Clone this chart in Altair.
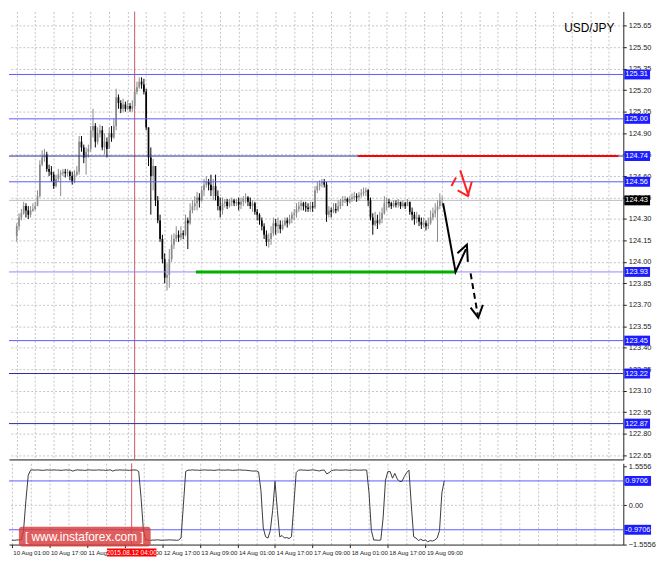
import altair as alt
import pandas as pd

# ---------------- data ----------------
symbol = "USD/JPY"
first_open = 124.18
close = [124.25,124.31,124.34,124.39,124.36,124.33,124.36,124.37,124.39,124.46,
124.68,124.73,124.75,124.65,124.63,124.61,124.53,124.58,124.61,124.62,
124.63,124.62,124.63,124.60,124.56,124.61,124.63,124.84,124.80,124.73,
124.77,124.79,124.92,124.95,124.84,124.90,124.92,124.80,124.84,124.79,
124.90,124.87,124.95,125.15,125.11,125.07,125.10,125.07,125.09,125.07,
125.09,125.19,125.22,125.26,125.24,125.19,124.94,124.73,124.60,124.67,
124.43,124.29,124.16,124.02,123.89,123.91,124.02,124.12,124.16,124.19,
124.17,124.20,124.19,124.29,124.27,124.36,124.39,124.41,124.45,124.43,
124.50,124.54,124.56,124.54,124.50,124.53,124.46,124.39,124.36,124.41,
124.42,124.39,124.42,124.43,124.41,124.42,124.40,124.42,124.44,124.45,
124.42,124.39,124.41,124.35,124.33,124.29,124.25,124.19,124.14,124.16,
124.20,124.27,124.25,124.26,124.23,124.26,124.29,124.27,124.30,124.33,
124.34,124.37,124.39,124.41,124.39,124.38,124.37,124.39,124.38,124.50,
124.53,124.55,124.56,124.54,124.33,124.36,124.35,124.37,124.36,124.39,
124.42,124.43,124.44,124.42,124.44,124.45,124.46,124.45,124.47,124.48,
124.49,124.50,124.43,124.31,124.26,124.29,124.27,124.30,124.34,124.41,
124.42,124.41,124.39,124.41,124.40,124.42,124.39,124.41,124.39,124.42,
124.35,124.33,124.30,124.31,124.28,124.26,124.27,124.25,124.27,124.31,
124.34,124.36,124.39,124.43,124.43]
high = [124.27,124.34,124.37,124.42,124.41,124.39,124.39,124.41,124.42,124.50,
124.71,124.78,124.79,124.77,124.68,124.67,124.63,124.61,124.65,124.64,
124.65,124.65,124.65,124.64,124.63,124.64,124.67,124.88,124.88,124.82,
124.80,124.82,124.95,125.07,124.97,124.94,124.96,124.95,124.90,124.87,
124.94,124.95,125.00,125.21,125.17,125.13,125.14,125.12,125.13,125.11,
125.13,125.21,125.26,125.29,125.29,125.28,125.21,124.94,124.80,124.72,
124.67,124.46,124.33,124.19,124.06,123.99,124.09,124.19,124.20,124.25,
124.22,124.25,124.22,124.33,124.31,124.41,124.43,124.46,124.49,124.48,
124.53,124.58,124.60,124.58,124.61,124.58,124.61,124.50,124.45,124.45,
124.44,124.44,124.44,124.45,124.44,124.44,124.45,124.45,124.46,124.48,
124.46,124.45,124.43,124.42,124.37,124.34,124.31,124.27,124.22,124.20,
124.25,124.31,124.30,124.31,124.29,124.29,124.31,124.31,124.33,124.35,
124.37,124.41,124.42,124.43,124.42,124.42,124.41,124.42,124.42,124.53,
124.56,124.57,124.58,124.58,124.56,124.39,124.38,124.41,124.41,124.43,
124.44,124.46,124.46,124.45,124.46,124.48,124.49,124.48,124.49,124.51,
124.52,124.52,124.51,124.45,124.34,124.35,124.33,124.35,124.38,124.46,
124.45,124.44,124.42,124.43,124.43,124.44,124.42,124.43,124.42,124.44,
124.42,124.38,124.35,124.35,124.33,124.31,124.31,124.29,124.31,124.36,
124.38,124.41,124.43,124.48,124.46]
low = [124.14,124.22,124.29,124.33,124.31,124.30,124.31,124.35,124.36,124.39,
124.45,124.67,124.70,124.63,124.60,124.56,124.51,124.52,124.56,124.46,
124.60,124.59,124.60,124.57,124.54,124.55,124.60,124.61,124.77,124.69,
124.61,124.73,124.77,124.87,124.80,124.82,124.87,124.78,124.75,124.73,
124.80,124.84,124.86,124.92,125.07,125.04,125.05,125.05,125.06,125.05,
125.05,125.07,125.17,125.21,125.21,125.17,124.92,124.67,124.33,124.50,
124.39,124.27,124.14,123.99,123.85,123.80,123.82,124.00,124.09,124.14,
124.14,124.15,124.16,124.18,124.09,124.26,124.34,124.36,124.36,124.38,
124.42,124.46,124.52,124.50,124.46,124.43,124.43,124.36,124.31,124.33,
124.38,124.37,124.38,124.39,124.39,124.39,124.36,124.37,124.39,124.41,
124.39,124.37,124.35,124.33,124.29,124.26,124.22,124.16,124.11,124.10,
124.12,124.18,124.19,124.20,124.20,124.22,124.25,124.24,124.26,124.27,
124.29,124.31,124.35,124.36,124.36,124.35,124.35,124.35,124.35,124.37,
124.48,124.50,124.52,124.52,124.28,124.31,124.31,124.34,124.34,124.35,
124.37,124.39,124.41,124.39,124.41,124.42,124.43,124.42,124.43,124.45,
124.46,124.46,124.39,124.29,124.19,124.25,124.23,124.26,124.27,124.33,
124.36,124.38,124.37,124.38,124.38,124.38,124.37,124.38,124.37,124.39,
124.33,124.29,124.26,124.27,124.25,124.23,124.24,124.22,124.23,124.26,
124.29,124.31,124.14,124.37,124.39]
osc = [-1.38,-1.39,-1.38,-1.37,-1.38,-1.00,0.20,1.20,1.40,
1.41,1.40,1.41,1.40,1.39,1.40,1.41,1.40,1.40,1.41,
1.40,1.40,1.39,1.40,1.41,1.40,1.40,1.36,1.40,1.41,
1.40,1.40,1.39,1.40,1.41,1.40,1.40,1.40,1.41,1.40,
1.40,1.39,1.40,1.41,1.36,1.40,1.40,1.41,1.40,1.40,
1.40,1.39,1.40,1.41,1.40,
1.35,0.30,-1.00,-1.38,
-1.38,-1.39,-1.38,-1.38,-1.37,-1.38,-1.39,-1.38,-1.38,-1.37,-1.38,-1.38,-1.39,-1.38,
-1.30,0.00,1.35,1.40,
1.40,1.41,1.40,1.40,1.39,1.40,1.41,1.40,1.40,1.40,1.39,1.40,1.41,1.40,1.40,
1.40,1.41,1.40,1.39,1.40,1.40,1.41,1.40,1.40,1.39,1.38,1.37,1.36,1.37,
1.33,0.60,-0.90,-1.25,-1.30,-1.00,-0.20,0.95,-0.20,-1.25,-1.20,-1.30,-1.28,-1.32,-1.25,0.00,1.30,
1.40,1.41,1.40,1.40,1.39,1.40,1.41,1.40,1.38,1.37,1.40,1.40,
1.25,1.30,1.38,
1.40,1.41,1.40,1.40,1.40,1.41,1.40,1.39,1.40,1.41,1.40,1.40,1.40,1.41,1.40,
0.50,-1.00,-1.38,-1.38,-1.39,-1.38,-0.50,1.00,1.34,1.34,1.08,1.27,1.05,0.95,0.95,
1.14,1.30,1.40,0.00,-1.25,-1.30,-1.40,-1.35,-1.40,-1.38,-1.45,-1.40,-1.42,-1.38,
-1.30,-1.00,0.50,0.97]

x_labels = ["10 Aug 01:00", "10 Aug 17:00", "11 Aug 09:00", "12 Aug 01:00",
            "12 Aug 17:00", "13 Aug 09:00", "14 Aug 01:00", "14 Aug 17:00",
            "17 Aug 09:00", "18 Aug 01:00", "18 Aug 17:00", "19 Aug 09:00"]
x_label_step = 16
grid_step = 8
y_ticks = [122.65, 122.80, 122.95, 123.10, 123.25, 123.40, 123.55, 123.70,
           123.85, 124.00, 124.15, 124.30, 124.45, 124.60, 124.75, 124.90,
           125.05, 125.20, 125.35, 125.50, 125.65]
osc_ticks = [-1.5556, 0.0, 1.5556]
osc_levels = [0.9706, -0.9706]

levels = [125.31, 125.00, 124.74, 124.56, 123.93, 123.45, 123.22, 122.87]
level_colors = ["#5b5bff", "#5b5bff", "#2a2a9a", "#5b5bff", "#8a8aff",
                "#5b5bff", "#2a2a9a", "#2a2a9a"]
current_price = 124.43

marker_bar = 51
marker_label = "2015.08.12 04:00"

res_bar = [147.5, 260.2]
res_price = [124.74, 124.74]
sup_bar = [77.5, 190.0]
sup_price = [123.93, 123.93]

solid_seg = ["a", "a", "a", "b", "b", "b", "c", "c", "c"]
solid_bar = [184.4, 189.8, 194.3, 190.6, 194.7, 195.1, 196.3, 199.6, 201.6]
solid_price = [124.41, 123.93, 124.09, 124.06, 124.12, 124.00, 123.68, 123.61, 123.70]
dash_bar = [196.3, 199.4]
dash_price = [123.92, 123.63]
red_seg = ["a", "a", "b", "b", "c", "c", "c"]
red_bar = [188.0, 190.0, 191.8, 195.5, 190.7, 195.1, 196.8]
red_price = [124.53, 124.59, 124.64, 124.46, 124.50, 124.46, 124.56]

logo_text = "[  www.instaforex.com  ]"

# ---------------- layout ----------------
W, H1, H2 = 620, 452, 82
XDOM = [-1.2, 260.2]
YDOM = [122.62, 125.75]
ODOM = [-1.56, 1.67]
FONT = "Liberation Sans"
GRID = "#c4c4c4"
MARKER = "#c85a5a"

xscale = alt.Scale(domain=XDOM, nice=False, zero=False)
yscale = alt.Scale(domain=YDOM, nice=False, zero=False)
oscale = alt.Scale(domain=ODOM, nice=False, zero=False)
grid_vals = list(range(0, 257, grid_step))

main_xaxis = alt.Axis(values=grid_vals, labels=False, ticks=False, title=None,
                      grid=True, gridColor=GRID, gridDash=[2, 2],
                      domain=True, domainColor="#7a7a7a", domainWidth=2)
main_yaxis = alt.Axis(orient="right", values=y_ticks, format=".2f", title=None,
                      grid=True, gridColor=GRID, gridDash=[2, 2],
                      labelFontSize=7.5, labelFont=FONT, labelColor="#222",
                      tickSize=3, tickColor="#222", labelPadding=2,
                      domainColor="#222", labelOverlap=False)

n_lab = len(x_labels)
last_lab = (n_lab - 1) * x_label_step
expr = "".join(f"datum.value == {i * x_label_step} ? '{t}' : " for i, t in enumerate(x_labels)) + "''"
ind_xaxis = alt.Axis(values=grid_vals, labelExpr=expr, title=None, grid=True,
                     gridColor=GRID, gridDash=[2, 2], labelFontSize=6.2,
                     labelFont=FONT, labelColor="#222", labelAlign="left",
                     labelPadding=2, labelOverlap=False, labelFlush=False,
                     labelOffset=1,
                     tickSize=3, tickColor="#222",
                     tickOpacity={"condition": {"test": f"datum.value % {x_label_step} == 0 && datum.value <= {last_lab}", "value": 1}, "value": 0},
                     domainColor="#222")
ind_yaxis = alt.Axis(orient="right", values=osc_ticks,
                     labelExpr="datum.value == 0 ? '0.00' : format(datum.value, '.4f')",
                     title=None, grid=False, labelFontSize=7.5, labelFont=FONT,
                     labelColor="#222", tickSize=3, tickColor="#222",
                     labelPadding=2, domainColor="#222", labelOverlap=False)


def mx(f):
    return alt.X(f, type="quantitative", scale=xscale, axis=main_xaxis)


def my(f):
    return alt.Y(f, type="quantitative", scale=yscale, axis=main_yaxis)


def ox(f):
    return alt.X(f, type="quantitative", scale=xscale, axis=ind_xaxis)


def oy(f):
    return alt.Y(f, type="quantitative", scale=oscale, axis=ind_yaxis)


n = min(len(close), len(high), len(low))
opens = [first_open] + close[:n - 1]
df = pd.DataFrame({"bar": list(range(n)), "open": opens, "high": high[:n],
                   "low": low[:n], "close": close[:n]})
df["dir"] = ["up" if c >= o else "down" for o, c in zip(df["open"], df["close"])]
cdir = alt.Color("dir:N", scale=alt.Scale(domain=["up", "down"], range=["#8a8a8a", "#000000"]), legend=None)

cur_df = pd.DataFrame({"price": [current_price]})
lev_df = pd.DataFrame({"price": levels, "col": level_colors})
mark_df = pd.DataFrame({"bar": [marker_bar], "t": [marker_label]})
res_df = pd.DataFrame({"bar": res_bar, "price": res_price})
sup_df = pd.DataFrame({"bar": sup_bar, "price": sup_price})
sol_df = pd.DataFrame({"seg": solid_seg, "bar": solid_bar, "price": solid_price, "i": list(range(len(solid_bar)))})
dash_df = pd.DataFrame({"bar": dash_bar, "price": dash_price})
red_df = pd.DataFrame({"seg": red_seg, "bar": red_bar, "price": red_price, "i": list(range(len(red_bar)))})
lab_df = pd.DataFrame({"price": levels + [current_price],
                       "label": [f"{v:.2f}" for v in levels + [current_price]],
                       "fill": ["#1c1cff"] * len(levels) + ["#000000"]})
title_df = pd.DataFrame({"t": [symbol]})

grid_layer = alt.Chart(cur_df).mark_rule(color="#bdbdbd", strokeWidth=1).encode(y=my("price"))
vline = alt.Chart(mark_df).mark_rule(color=MARKER, strokeWidth=1).encode(x=mx("bar"))
wick = alt.Chart(df).mark_rule(strokeWidth=1).encode(x=mx("bar"), y=my("low"), y2=alt.Y2("high"), color=cdir)
body = alt.Chart(df).mark_bar(size=1.7).encode(x=mx("bar"), y=my("open"), y2=alt.Y2("close"), color=cdir)
lev = alt.Chart(lev_df).mark_rule(strokeWidth=1).encode(y=my("price"), color=alt.Color("col:N", scale=None))
res = alt.Chart(res_df).mark_line(color="#ff0000", strokeWidth=2).encode(x=mx("bar"), y=my("price"))
sup = alt.Chart(sup_df).mark_line(color="#00b000", strokeWidth=3).encode(x=mx("bar"), y=my("price"))
arr_s = alt.Chart(sol_df).mark_line(color="#000000", strokeWidth=2).encode(
    x=mx("bar"), y=my("price"), detail="seg:N", order="i:Q")
arr_d = alt.Chart(dash_df).mark_line(color="#000000", strokeWidth=2, strokeDash=[6, 4]).encode(
    x=mx("bar"), y=my("price"))
arr_r = alt.Chart(red_df).mark_line(color="#ff2020", strokeWidth=2).encode(
    x=mx("bar"), y=my("price"), detail="seg:N", order="i:Q")
box = alt.Chart(lab_df).mark_rect(yOffset=-5, y2Offset=5).encode(
    x=alt.value(W + 1), x2=alt.value(W + 27), y=my("price"), y2=alt.Y2("price"),
    color=alt.Color("fill:N", scale=None))
box_t = alt.Chart(lab_df).mark_text(align="left", baseline="middle", fontSize=7.5, font=FONT, color="white").encode(
    x=alt.value(W + 2), y=my("price"), text="label:N")
title = alt.Chart(title_df).mark_text(align="right", baseline="middle", fontSize=12, font=FONT, color="black").encode(
    x=alt.value(W - 9), y=alt.value(17), text="t:N")

main = alt.layer(grid_layer, vline, wick, body, lev, res, sup, arr_s, arr_d, arr_r,
                 box, box_t, title).properties(width=W, height=H1)

# ---------------- indicator panel ----------------
idf = pd.DataFrame({"bar": list(range(len(osc))), "osc": osc})
zero_df = pd.DataFrame({"v": [0.0]})
olev_df = pd.DataFrame({"v": osc_levels, "label": [f"{v:.4f}" for v in osc_levels]})
logo_df = pd.DataFrame({"t": [logo_text]})

zero = alt.Chart(zero_df).mark_rule(color=GRID, strokeDash=[2, 2]).encode(y=oy("v"))
olev = alt.Chart(olev_df).mark_rule(color="#5b5bff", strokeWidth=1).encode(y=oy("v"))
ovl = alt.Chart(mark_df).mark_rule(color=MARKER, strokeWidth=1).encode(x=ox("bar"))
oline = alt.Chart(idf).mark_line(color="#3a3a3a", strokeWidth=1).encode(x=ox("bar"), y=oy("osc"))
obox = alt.Chart(olev_df).mark_rect(yOffset=-5, y2Offset=5, color="#1c1cff").encode(
    x=alt.value(W + 1), x2=alt.value(W + 28), y=oy("v"), y2=alt.Y2("v"))
obox_t = alt.Chart(olev_df).mark_text(align="left", baseline="middle", fontSize=7.5, font=FONT, color="white").encode(
    x=alt.value(W + 2), y=oy("v"), text="label:N")
dbox = alt.Chart(mark_df).mark_rect(color="#ff0000", xOffset=-25, x2Offset=25).encode(
    x=ox("bar"), x2=alt.X2("bar"), y=alt.value(H2 + 4), y2=alt.value(H2 + 12))
dbox_t = alt.Chart(mark_df).mark_text(align="center", baseline="middle", fontSize=6.5, font=FONT, color="white").encode(
    x=ox("bar"), y=alt.value(H2 + 8.5), text="t:N")
logo = alt.Chart(logo_df).mark_rect(color="#d83c3c", opacity=0.82, cornerRadius=3).encode(
    x=alt.value(10), x2=alt.value(143), y=alt.value(H2 - 18), y2=alt.value(H2 + 2))
logo_t = alt.Chart(logo_df).mark_text(align="center", baseline="middle", fontSize=12, font=FONT, color="white").encode(
    x=alt.value(76), y=alt.value(H2 - 8), text="t:N")

ind = alt.layer(zero, olev, ovl, oline, obox, obox_t, dbox, dbox_t, logo, logo_t).properties(width=W, height=H2)

chart = alt.vconcat(main, ind, spacing=1).properties(
    padding={"left": 0, "top": 0, "right": 0, "bottom": 0}, background="white"
).configure_view(stroke=None)

chart.save("out.html", embed_options={"renderer": "svg", "actions": False})
